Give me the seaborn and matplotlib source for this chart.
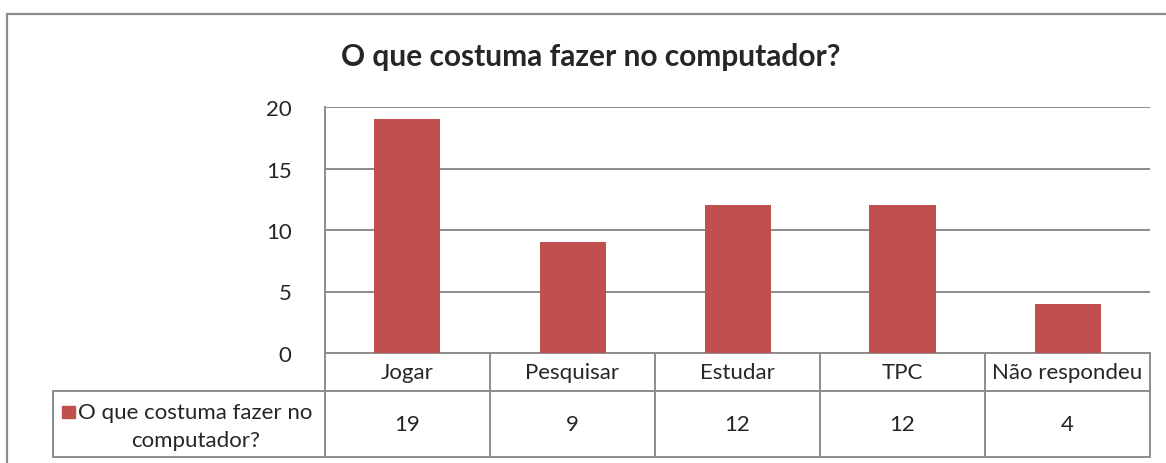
import matplotlib
matplotlib.use("Agg")
import matplotlib.pyplot as plt
import seaborn as sns
from matplotlib.lines import Line2D
from matplotlib.patches import Rectangle

# data
categories = ["Jogar", "Pesquisar", "Estudar", "TPC", "Não respondeu"]
values = [19, 9, 12, 12, 4]
series_name = "O que costuma fazer no computador?"
title = "O que costuma fazer no computador?"
y_ticks = [0, 5, 10, 15, 20]

BAR_COLOR = "#C0504D"
LINE_COLOR = "#8C8C8C"
FS = 16

sns.set_style("white")
plt.rcParams["font.family"] = ["Lato", "DejaVu Sans"]

W, H = 1166, 464
fig = plt.figure(figsize=(W / 100, H / 100), dpi=100)

# plot area in pixels: left 325, right 1150, top 108, bottom 354
ax = fig.add_axes([325 / W, (H - 354) / H, 825 / W, 246 / H])
sns.barplot(x=categories, y=values, color=BAR_COLOR, saturation=1,
            width=0.4, linewidth=0, ax=ax, zorder=3)

ax.set_xlim(-0.5, len(categories) - 0.5)
ax.set_ylim(0, 20)
ax.set_yticks(y_ticks)
ax.set_xticks([])
ax.set_xlabel("")
ax.set_ylabel("")
ax.tick_params(axis="y", length=0, pad=24, labelsize=FS)
ax.yaxis.grid(True, color=LINE_COLOR, linewidth=1.4, zorder=0)
ax.set_axisbelow(True)
for s in ["top", "right"]:
    ax.spines[s].set_visible(False)
for s in ["left", "bottom"]:
    ax.spines[s].set_color(LINE_COLOR)
    ax.spines[s].set_linewidth(1.4)

# data table under the plot (axes fraction for y, data units for x)
tr = ax.get_xaxis_transform()
px = 246.0  # plot height in pixels
row1 = -(392 - 354) / px
row2 = -(458 - 354) / px
left_lab = -0.5 - (325 - 53) / 165.0
n = len(categories)
lw = 1.4

def hline(x0, x1, y):
    ax.add_line(Line2D([x0, x1], [y, y], transform=tr, color=LINE_COLOR,
                       lw=lw, clip_on=False))

def vline(x, y0, y1):
    ax.add_line(Line2D([x, x], [y0, y1], transform=tr, color=LINE_COLOR,
                       lw=lw, clip_on=False))

hline(left_lab, n - 0.5, row1)
hline(left_lab, n - 0.5, row2)
for i in range(n + 1):
    vline(i - 0.5, 0, row2)
vline(left_lab, row1, row2)

for i, (cat, v) in enumerate(zip(categories, values)):
    ax.text(i, (0 + row1) / 2, cat, transform=tr, ha="center", va="center",
            fontsize=FS)
    ax.text(i, (row1 + row2) / 2, str(v), transform=tr, ha="center",
            va="center", fontsize=FS)

# legend key + series name in the row label cell
words = series_name.split(" ")
label_text = " ".join(words[:-1]) + "\n" + words[-1]
lab_cx = (left_lab + (-0.5)) / 2 + 0.04
ax.text(lab_cx, (row1 + row2) / 2 - 2 / px, label_text, transform=tr,
        ha="center", va="center", fontsize=FS, linespacing=1.45)
ax.add_patch(Rectangle((left_lab + 9 / 165, row1 - 27 / px), 13 / 165, 12 / px,
                       transform=tr, color=BAR_COLOR, clip_on=False))

# title
fig.text(591 / W, 1 - 57 / H, title, ha="center", va="center",
         fontsize=21.5, fontweight="bold")

# chart frame (left and top edges visible)
fig.add_artist(Line2D([7 / W, 7 / W], [0, 1 - 15 / H], transform=fig.transFigure,
                      color=LINE_COLOR, lw=1.6))
fig.add_artist(Line2D([7 / W, 1], [1 - 15 / H, 1 - 15 / H],
                      transform=fig.transFigure, color=LINE_COLOR, lw=1.6))

fig.savefig("out.png", dpi=100)
plt.close(fig)
